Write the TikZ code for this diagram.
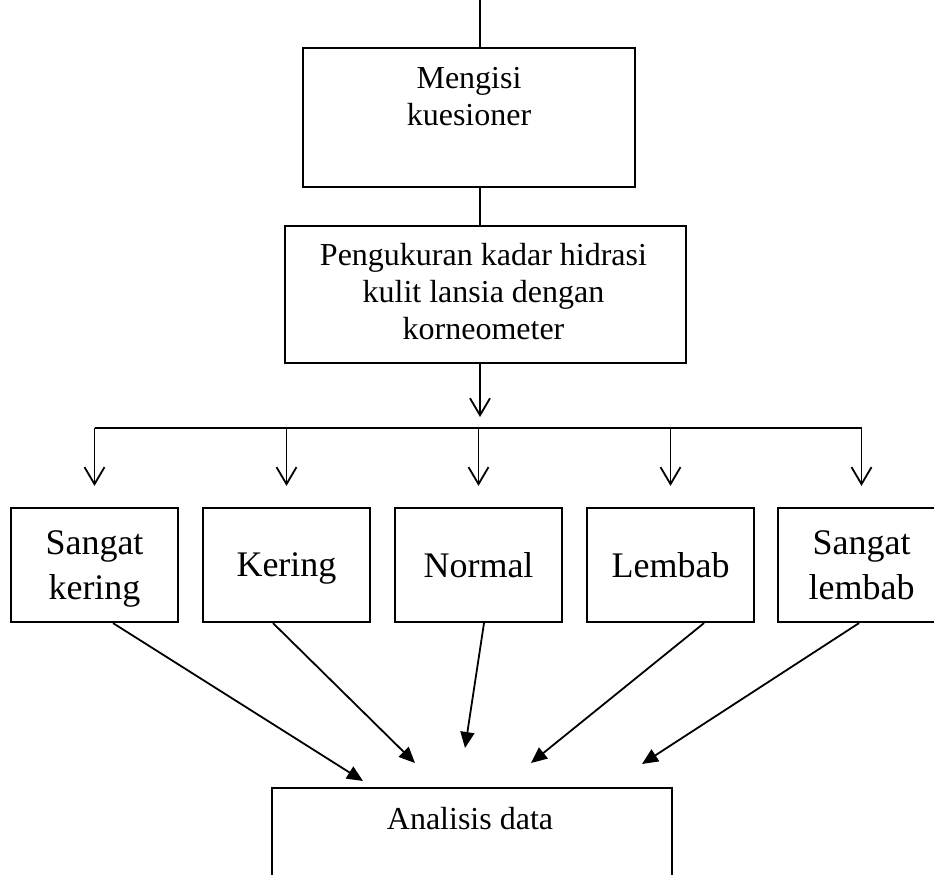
\documentclass[tikz,border=0pt]{standalone}
\usepackage{fontspec}
\setmainfont{Liberation Serif}
\usetikzlibrary{arrows.meta,positioning}

\tikzset{
  kotak/.style={draw, line width=2.2pt, rectangle, inner sep=0pt},
  teks/.style={font=\fontsize{32}{37}\selectfont, align=center, inner sep=0pt},
  kategori/.style={kotak, minimum width=167pt, minimum height=114pt,
    font=\fontsize{36}{45}\selectfont, align=center},
  garis/.style={line width=1.8pt},
  panahbuka/.style={garis, -{Straight Barb[length=17pt,width=20pt]}},
  panahisi/.style={garis, -{Triangle[length=16pt,width=14pt]}}
}

\begin{document}
\begin{tikzpicture}[x=1pt,y=-1pt]
		\useasboundingbox (0,0) rectangle (934,875);

		% kuesioner
		\node[kotak, minimum width=332pt, minimum height=139pt] (kuesioner) at (469,117.5) {};
		\node[teks, below=20pt of kuesioner.north] {Mengisi\\kuesioner};

		% pengukuran
		\node[kotak, minimum width=401pt, minimum height=137pt] (pengukuran) at (485.5,294.5) {};
		\node[teks, below=18pt of pengukuran.north, xshift=-2pt] {Pengukuran kadar hidrasi\\kulit lansia dengan\\korneometer};

		% kategori
		\node[kategori, text depth=0pt] (skering) at (94.5,565) {Sangat\\kering};
		\node[kategori, text depth=0pt] (kering) at (286.5,565) {Kering};
		\node[kategori] (normal) at (478.5,565) {Normal};
		\node[kategori] (lembab) at (670.5,565) {Lembab};
		\node[kategori] (slembab) at (861.5,565) {Sangat\\lembab};

		% analisis (bagian bawah terbuka)
		\node[inner sep=0pt, minimum width=400pt, minimum height=92pt] (analisis) at (472,834) {};
		\draw[line width=2.2pt] (analisis.south west) -- (analisis.north west) -- (analisis.north east) -- (analisis.south east);
		\node[teks, below=19pt of analisis.north, xshift=-2pt] {Analisis data};

		% garis atas
		\coordinate (atas) at (480,0);
		\draw[garis] (atas) -- (atas |- kuesioner.north);
		\draw[garis] (kuesioner.south -| atas) -- (pengukuran.north -| atas);

		% cabang
		\coordinate (cabang) at (480,428);
		\draw[panahbuka] (pengukuran.south -| atas) -- ([yshift=11pt]cabang);
		\draw[garis] (skering |- cabang) -- (slembab |- cabang);
		\foreach \k in {skering,kering,normal,lembab,slembab}
			\draw[panahbuka] (\k |- cabang) -- ([yshift=21pt]\k.north);

		% ujung panah ke analisis
		\coordinate (t1) at (363,781);
		\coordinate (t2) at (415,763);
		\coordinate (t3) at (465,748);
		\coordinate (t4) at (531,763);
		\coordinate (t5) at (642,764);
		\draw[panahisi] ([xshift=18.5pt]skering.south) -- (t1);
		\draw[panahisi] ([xshift=-13.5pt]kering.south) -- (t2);
		\draw[panahisi] ([xshift=5.5pt]normal.south) -- (t3);
		\draw[panahisi] ([xshift=33.5pt]lembab.south) -- (t4);
		\draw[panahisi] ([xshift=-2.5pt]slembab.south) -- (t5);
	\end{tikzpicture}
\end{document}
